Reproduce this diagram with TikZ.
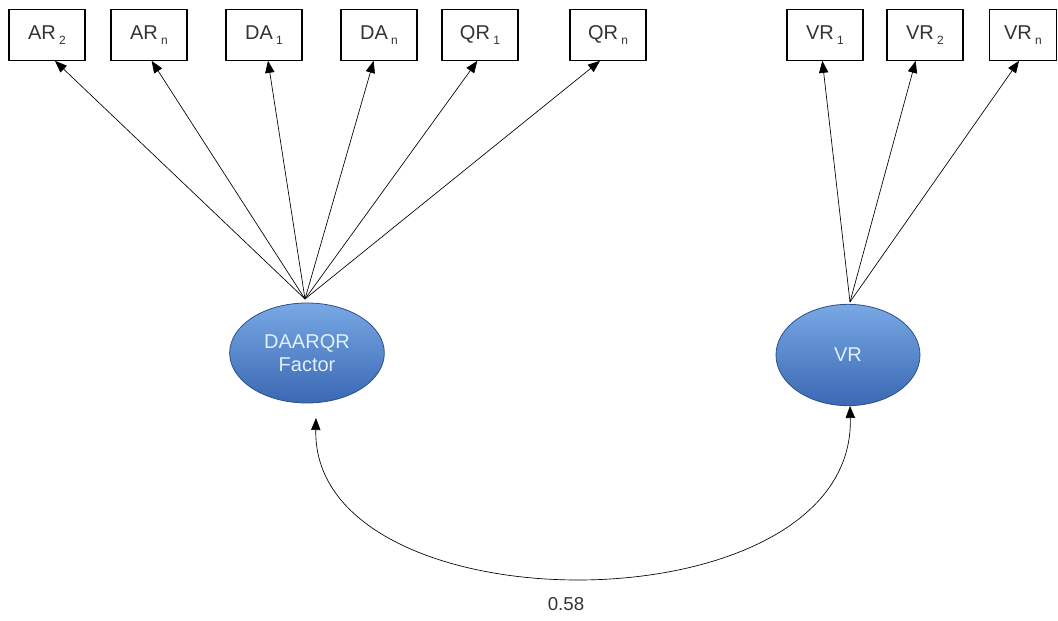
\documentclass[tikz,border=0pt]{standalone}
\usepackage{fontspec}
\setmainfont{Liberation Sans}
\usetikzlibrary{shapes.geometric,arrows.meta}
\definecolor{facblue}{RGB}{84,136,206}
\definecolor{factop}{RGB}{120,168,228}
\definecolor{facbot}{RGB}{58,104,180}
\definecolor{faceline}{RGB}{45,80,140}
\definecolor{factext}{RGB}{225,240,250}
\newcommand{\sbs}[1]{\,\raisebox{-0.45ex}{\fontsize{9}{10}\selectfont #1}}
\tikzset{indbox/.style={draw,line width=0.8pt,minimum width=57pt,minimum height=38pt,inner sep=0pt,text=black!80,font=\fontsize{15}{17}\selectfont},
    latent/.style={ellipse,draw=faceline,line width=0.6pt,top color=factop,middle color=facblue,bottom color=facbot,shading angle=0,text=factext,inner sep=0pt,font=\fontsize{15}{17}\selectfont,align=center},
    load/.style={-{Triangle[length=9pt,width=7pt]},line width=0.5pt}}
\begin{document}
\begin{tikzpicture}[x=0.75pt,y=0.75pt,yscale=-1,xscale=1]
\path[use as bounding box] (0,0) rectangle (1058,621);

% Indicator boxes
\node [indbox] (ar2) at (47,35) {AR\sbs{2}};
\node [indbox] (arn) at (149,35) {AR\sbs{n}};
\node [indbox] (da1) at (264,35) {DA\sbs{1}};
\node [indbox] (dan) at (379,35) {DA\sbs{n}};
\node [indbox] (qr1) at (480,35) {QR\sbs{1}};
\node [indbox] (qrn) at (608,35) {QR\sbs{n}};
\node [indbox] (vr1) at (825,35) {VR\sbs{1}};
\node [indbox] (vr2) at (925,35) {VR\sbs{2}};
\node [indbox,minimum width=50pt] (vrn) at (1023,35) {VR\sbs{n}};

% Latent factors
\node [latent,minimum width=116pt,minimum height=75pt] (dafac) at (307,353) {DAARQR\\Factor};
\node [latent,minimum width=108pt,minimum height=76pt] (vrfac) at (848,355) {VR};
\coordinate (datop) at (305,299);
\coordinate (vrtop) at (850,302);
\coordinate (dabot) at (316,418);
\coordinate (vrbot) at (850,406);

% Loadings
\draw [load] (datop) -- ([xshift=6pt]ar2.south);
\draw [load] (datop) -- ([xshift=2pt]arn.south);
\draw [load] (datop) -- ([xshift=3pt]da1.south);
\draw [load] (datop) -- ([xshift=-4pt]dan.south);
\draw [load] (datop) -- ([xshift=-2pt]qr1.south);
\draw [load] (datop) -- ([xshift=-6pt]qrn.south);
\draw [load] (vrtop) -- ([xshift=-2pt]vr1.south);
\draw [load] (vrtop) -- ([xshift=-7pt]vr2.south);
\draw [load] (vrtop) -- ([xshift=-3pt]vrn.south);

% Correlation
\draw [{Triangle[length=9pt,width=7pt]}-{Triangle[length=9pt,width=7pt]},line width=0.5pt] (dabot) .. controls (312,632) and (856,632) .. (vrbot);
% Text Node
\node [font=\fontsize{14}{16}\selectfont,text=black!80] (corr) at (566,604) {0.58};

\end{tikzpicture}
\end{document}
